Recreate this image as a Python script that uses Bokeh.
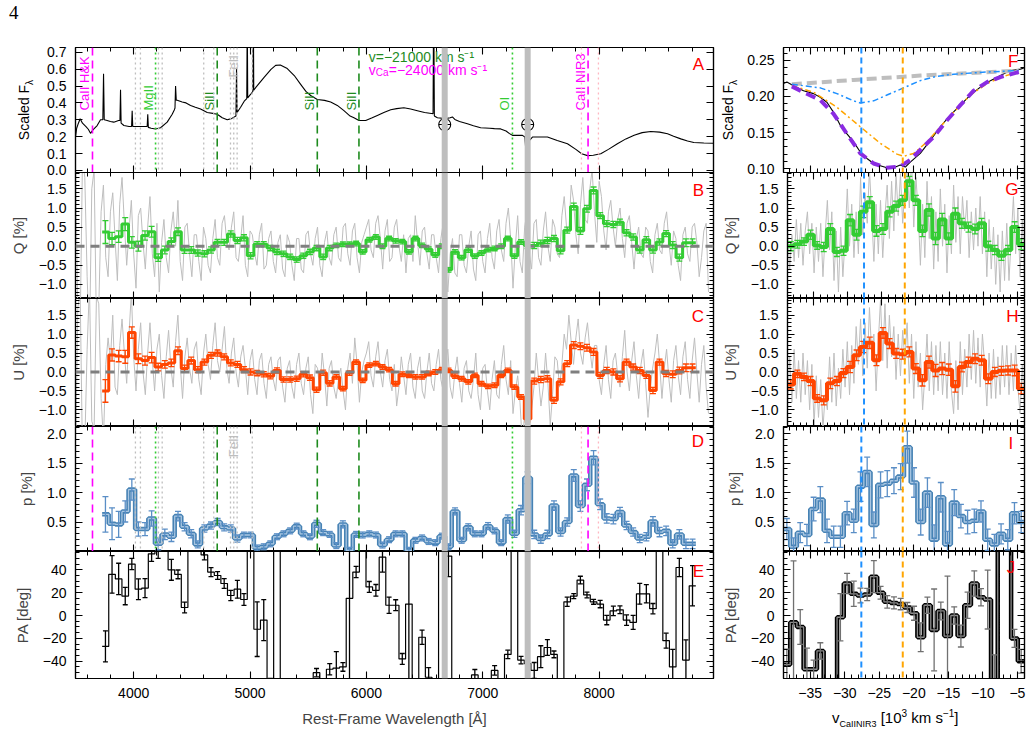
import numpy as np
from bokeh.plotting import figure
from bokeh.layouts import column, row
from bokeh.models import Range1d, LinearAxis, FixedTicker, CustomJSTickFormatter, Span, Div
from bokeh.core.properties import value
from bokeh.embed import file_html
from bokeh.resources import INLINE

FONT = "Liberation Sans"

# ------------------------------------------------------------------ data
# Panel A: total-flux spectrum, rest-frame wavelength [A] and scaled flux
spec_wave = [3500, 3510, 3525, 3540, 3560, 3590, 3610, 3629, 3650, 3686, 3715, 3735, 3741, 3747,
             3772, 3800, 3829, 3870, 3882, 3887, 3892, 3916, 3960, 3982, 3987, 3992, 4016, 4060,
             4116, 4121, 4126, 4150, 4188, 4231, 4288, 4331, 4350, 4355, 4360, 4366, 4374, 4417,
             4450, 4489, 4530, 4575, 4632, 4680, 4718, 4761, 4804, 4840, 4879, 4884, 4889, 4919,
             4950, 4972, 4976, 4980, 5004, 5024, 5028, 5032, 5048, 5119, 5180, 5220, 5260, 5320,
             5380, 5435, 5480, 5521, 5578, 5640, 5693, 5750, 5807, 5860, 5893, 5936, 5994, 6050,
             6094, 6150, 6209, 6260, 6322, 6380, 6438, 6500, 6573, 6578, 6584, 6610, 6680, 6720,
             6739, 6760, 6800, 6868, 6920, 6982, 7060, 7100, 7154, 7200, 7230, 7255, 7341, 7362,
             7376, 7386, 7400, 7427, 7490, 7556, 7640, 7728, 7800, 7850, 7900, 7950, 8014, 8080,
             8157, 8230, 8301, 8370, 8444, 8520, 8588, 8640, 8702, 8760, 8814, 8900, 8983]
spec_flux = [0.198, 0.25, 0.28, 0.306, 0.28, 0.26, 0.244, 0.22, 0.24, 0.266, 0.30, 0.30, 0.572, 0.30,
             0.296, 0.29, 0.286, 0.296, 0.296, 0.478, 0.28, 0.266, 0.26, 0.26, 0.354, 0.26, 0.26, 0.26,
             0.26, 0.333, 0.255, 0.25, 0.246, 0.253, 0.286, 0.333, 0.36, 0.37, 0.50, 0.416, 0.416, 0.405,
             0.40, 0.385, 0.374, 0.364, 0.343, 0.338, 0.333, 0.312, 0.30, 0.307, 0.322, 0.603, 0.343, 0.374,
             0.41, 0.426, 0.95, 0.43, 0.45, 0.468, 1.0, 0.475, 0.49, 0.55, 0.598, 0.622, 0.624, 0.603,
             0.562, 0.51, 0.468, 0.444, 0.42, 0.415, 0.405, 0.385, 0.354, 0.322, 0.312, 0.296, 0.296, 0.312,
             0.326, 0.343, 0.359, 0.366, 0.371, 0.364, 0.354, 0.343, 0.336, 1.1, 0.322, 0.312, 0.307, 0.312,
             0.317, 0.302, 0.29, 0.277, 0.265, 0.253, 0.25, 0.248, 0.246, 0.234, 0.218, 0.208, 0.208, 0.198,
             0.062, 0.114, 0.177, 0.198, 0.198, 0.198, 0.177, 0.158, 0.125, 0.099, 0.088, 0.09, 0.099, 0.125,
             0.158, 0.187, 0.208, 0.224, 0.231, 0.227, 0.217, 0.203, 0.187, 0.175, 0.166, 0.163, 0.161]

# Line identifications
ca_hk_wave = 3646
ca_nir_wave = 7905
si_waves = [4718, 5578, 5936]
mg_wave = 4188
o_wave = 7255
fe_dotted = [4015, 4058, 4213, 4245, 4602, 4688, 4832, 4860, 4889, 5019]
ca_nir_dotted = [7848, 7994]
telluric_waves = [6673, 7386]
telluric_flux = 0.272
id_text = ["CaII H&K", "MgII", "SiII", "FeII", "SiII", "SiII", "OI", "CaII NIR3"]
id_wave = [3646, 4188, 4718, 4925, 5578, 5936, 7255, 7905]
id_flux = [0.355, 0.355, 0.355, 0.55, 0.355, 0.355, 0.355, 0.355]
id_color = ["#FF00FF", "#33CC33", "#1E8B1E", "#BEBEBE", "#1E8B1E", "#1E8B1E", "#33CC33", "#FF00FF"]

# Panels B-E: binned polarimetry (equal-width bins between these wavelengths)
bin_lo, bin_hi = 3729, 8831
q_bin = [0.37, 0.20, 0.25, 0.58, 0.10, 0.00, 0.28, 0.38, -0.30, -0.10,
         0.12, 0.38, -0.10, -0.10, -0.18, -0.20, -0.10, 0.10, 0.10, 0.32,
         0.15, 0.22, -0.25, 0.05, 0.05, -0.05, -0.15, -0.20, -0.28, -0.35,
         -0.25, -0.15, -0.05, -0.28, -0.05, 0.02, 0.05, 0.05, 0.07, -0.15,
         0.17, 0.24, 0.00, 0.20, 0.14, 0.12, -0.15, 0.20, 0.02, -0.08,
         -0.23, 0.00, -0.62, -0.15, -0.30, -0.10, -0.26, -0.18, -0.09, -0.06,
         0.00, 0.20, -0.26, 0.11, 0.02, 0.02, 0.08, 0.15, 0.20, -0.12,
         0.42, 1.04, 0.40, 0.98, 1.46, 0.80, 0.59, 0.57, 0.63, 0.35,
         0.24, -0.10, 0.17, -0.10, 0.11, 0.33, 0.03, -0.30, 0.09, 0.09]
u_bin = [-0.50, 0.45, 0.42, 0.40, 1.04, 0.35, 0.30, 0.38, 0.13, 0.20,
         0.24, 0.56, 0.09, 0.30, 0.06, 0.26, 0.44, 0.50, 0.40, 0.24,
         0.20, 0.06, 0.00, -0.03, -0.06, -0.11, 0.04, -0.20, -0.20, -0.18,
         -0.06, -0.15, -0.47, -0.02, -0.30, -0.13, -0.44, -0.03, 0.26, -0.22,
         0.18, 0.22, 0.13, 0.06, -0.31, -0.06, -0.09, -0.13, -0.13, -0.04,
         0.00, 0.06, 0.04, -0.11, -0.18, -0.26, -0.09, -0.31, -0.38, -0.35,
         -0.09, 0.04, -0.40, -0.66, -1.24, -0.24, -0.20, -0.18, -0.75, -0.26,
         0.22, 0.71, 0.68, 0.64, 0.53, -0.09, 0.04, 0.00, -0.18, 0.26,
         0.13, 0.04, -0.09, -0.49, 0.26, -0.04, -0.06, 0.04, 0.11, 0.11]
qu_err = [0.30, 0.16, 0.15, 0.17, 0.15, 0.13, 0.12, 0.14, 0.10, 0.10,
          0.10, 0.10, 0.09, 0.09, 0.08, 0.08, 0.08, 0.08, 0.08, 0.08,
          0.08, 0.08, 0.08, 0.07, 0.07, 0.07, 0.07, 0.07, 0.07, 0.07,
          0.07, 0.07, 0.07, 0.07, 0.07, 0.06, 0.06, 0.06, 0.06, 0.06,
          0.06, 0.06, 0.06, 0.06, 0.06, 0.06, 0.06, 0.06, 0.06, 0.06,
          0.06, 0.06, 0.06, 0.06, 0.06, 0.06, 0.06, 0.06, 0.06, 0.06,
          0.06, 0.06, 0.06, 0.06, 0.08, 0.08, 0.08, 0.08, 0.08, 0.08,
          0.08, 0.09, 0.09, 0.09, 0.09, 0.08, 0.08, 0.08, 0.08, 0.08,
          0.08, 0.08, 0.08, 0.08, 0.08, 0.08, 0.09, 0.09, 0.10, 0.10]
p_bin = [0.63, 0.47, 0.46, 0.68, 1.05, 0.38, 0.38, 0.56, 0.13, 0.29,
         0.25, 0.60, 0.42, 0.30, 0.12, 0.39, 0.44, 0.50, 0.41, 0.39,
         0.22, 0.28, 0.28, 0.06, 0.08, 0.13, 0.25, 0.30, 0.35, 0.43,
         0.30, 0.25, 0.47, 0.32, 0.29, 0.10, 0.46, 0.02, 0.29, 0.28,
         0.30, 0.28, 0.11, 0.20, 0.30, 0.30, 0.02, 0.19, 0.23, 0.17,
         0.15, 0.26, 0.08, 0.68, 0.19, 0.41, 0.30, 0.30, 0.43, 0.35,
         0.15, 0.55, 0.30, 0.70, 1.25, 0.29, 0.21, 0.29, 0.78, 0.33,
         0.50, 1.29, 0.77, 1.13, 1.59, 0.80, 0.56, 0.55, 0.67, 0.44,
         0.33, 0.22, 0.25, 0.51, 0.33, 0.35, 0.13, 0.29, 0.13, 0.13]
p_err = [0.30, 0.27, 0.22, 0.18, 0.18, 0.12, 0.11, 0.13, 0.10, 0.09,
         0.08, 0.08, 0.07, 0.07, 0.06, 0.06, 0.06, 0.06, 0.06, 0.06,
         0.06, 0.05, 0.05, 0.05, 0.05, 0.05, 0.05, 0.05, 0.05, 0.05,
         0.05, 0.05, 0.06, 0.05, 0.05, 0.05, 0.06, 0.05, 0.05, 0.05,
         0.05, 0.05, 0.05, 0.05, 0.05, 0.05, 0.05, 0.05, 0.05, 0.05,
         0.05, 0.05, 0.05, 0.06, 0.05, 0.06, 0.05, 0.05, 0.06, 0.05,
         0.05, 0.07, 0.06, 0.08, 0.10, 0.07, 0.07, 0.07, 0.08, 0.07,
         0.07, 0.10, 0.09, 0.10, 0.12, 0.09, 0.08, 0.08, 0.08, 0.07,
         0.07, 0.07, 0.07, 0.08, 0.08, 0.08, 0.07, 0.08, 0.08, 0.08]
pa_bin = [-27, 36, 32, 17, 45, 23, 24, 54, 72, 78,
          40, 36, 7, 68, 81, 53, 38, 35, 28, 17.5,
          23, 14, 74, -12, -4, -66, 83, -78, -85, -72,
          -80, -69, -50, -75, -47, -46, -45, 15, 38, 71,
          25, 22, 51, 9, 9, -38, 10, -73, -19, -54,
          -82, 77, 52, -71, -86, -64, -52, -79, -68, -48,
          -77, -34, 75, -39, -42, -48, -36, -28, -34, -70,
          12, 17, 31, 18, 12, 10, -4, 4, 5, -4,
          -6, 19, 19, 6, 76, -22, -45, 42, -39, 26]

# Unbinned Q and U (grey): samples every 40 A from 3500 A, plus the samples halfway between
raw_start, raw_step = 3500, 40
q_raw = [2.5, -2.2, 1.8, -2.5, 2.0, -1.6,
         1.6, -0.8, 1.4, -0.9, 1.8, -0.5, 1.2, -1.1, 1.0, -0.6,
         1.3, -0.8, -1.2, 0.7, -0.7, 0.9, 1.2, -0.9, 0.6, -0.8,
         0.3, -0.9, 0.2, -0.7, 0.7, -0.5, 0.8, -0.1, 0.9, -0.4,
         0.8, -0.8, 0.3, -0.5, 0.6, -0.5, 0.4, -0.7, 0.3, -0.8,
         0.1, -0.9, 0.2, -0.7, 0.4, -0.5, 0.5, -0.8, 0.4, -0.5,
         0.5, -0.4, 0.6, -0.5, 0.6, -0.7, 0.3, 0.7, -0.3, 0.8,
         -0.6, 0.7, -0.3, 0.7, -0.4, -0.7, 0.3, 0.8, -0.5, 0.5,
         -0.6, 0.3, -0.7, 0.6, -1.2, 0.2, -0.8, 0.3, -0.7, 0.4,
         -0.9, 0.4, -0.7, 0.6, -0.6, 0.7, -0.4, 1.0, -1.1, 0.8,
         -0.7, 0.9, -0.6, 0.7, -0.5, 0.9, -0.4, 0.5, -0.3, 1.3,
         0.4, 1.2, -0.2, 1.8, 0.6, 2.0, 0.1, 1.3, -0.1, 1.2,
         0.0, 1.0, -0.3, 0.8, -0.6, 0.5, -0.3, 0.4, -0.7, 0.6,
         -0.2, 0.9, -0.5, 0.2, -0.9, 0.5, -0.4, 0.6, -0.8, 0.4,
         -1.2]
q_raw_mid = [-1.9, 2.3, -0.8, 1.5, -2.1, 0.9,
             -0.3, 0.9, 0.2, 1.1, 0.6, 0.4, -0.2, 0.8, 0.1, 0.5,
             -0.2, 0.6, 0.1, -0.3, 0.4, 0.0, -0.4, 0.5, -0.2, 0.3,
             -0.4, 0.5, -0.5, 0.2, -0.3, 0.6, 0.1, 0.5, -0.3, 0.2,
             -0.5, 0.4, -0.2, 0.3, -0.6, 0.2, -0.4, 0.1, -0.6, 0.3,
             -0.5, 0.2, -0.6, 0.3, -0.2, 0.2, -0.5, 0.1, -0.3, 0.3,
             -0.3, 0.5, -0.2, 0.4, -0.3, 0.1, 0.5, -0.1, 0.6, 0.2,
             0.4, -0.4, 0.5, 0.0, 0.3, 0.2, -0.4, 0.1, 0.4, -0.2,
             0.3, -0.3, 0.2, -0.6, -0.2, -0.7, 0.3, -0.5, 0.0, -0.6,
             0.3, -0.4, 0.2, -0.3, 0.4, -0.1, 0.6, 0.2, 0.0, -0.4,
             0.5, -0.2, 0.6, -0.3, 0.4, 0.0, 0.7, -0.2, 0.8, 0.5,
             1.6, 0.3, 1.1, 0.7, 1.5, 0.9, 1.7, 0.4, 0.9, 0.5,
             0.7, 0.2, 0.6, 0.1, 0.2, -0.2, 0.5, -0.4, 0.3, -0.1,
             0.6, 0.1, 0.4, -0.5, 0.3, -0.2, 0.5, 0.1, -0.3, 0.6]
u_raw = [-2.4, 2.1, -1.9, 2.3, -1.5, 1.8,
         -1.8, 0.9, 1.5, -0.6, 1.4, -0.3, 2.1, -0.5, 1.3, -0.6,
         1.3, -0.5, 1.0, -0.7, 1.1, -0.4, 1.5, -0.7, 0.9, -0.3,
         0.8, -0.6, 1.0, -0.2, 1.3, 0.0, 1.2, -0.3, 0.9, -0.4,
         0.7, -0.6, 0.6, -0.6, 0.5, -0.7, 0.4, -0.5, 0.4, -0.8,
         0.3, -0.7, 0.5, -0.6, 0.4, -1.1, 0.1, 0.5, -0.9, 0.3,
         -0.7, 0.1, -1.0, 0.5, 0.9, -0.8, 0.3, 0.8, -0.4, 0.8,
         -0.4, 0.6, -0.5, -0.9, 0.4, -0.6, 0.5, -0.7, 0.4, -0.7,
         0.5, -0.5, 0.6, -0.5, 0.6, -0.7, 0.4, -0.8, 0.3, -0.7,
         0.5, -1.0, 0.2, -1.0, 0.3, -0.7, 0.7, -0.6, -1.1, -0.1,
         -1.9, -0.5, -1.0, 0.5, -0.9, 0.5, -1.4, 0.4, -0.4, 1.0,
         1.5, 0.2, 1.4, 0.2, 1.3, 0.1, 0.7, -0.6, 0.7, -0.7,
         0.5, -0.4, 1.1, -0.5, 0.8, -0.7, 0.6, -1.2, 0.1, 1.0,
         -0.7, 0.6, -0.8, 0.7, -0.6, 0.8, -0.7, 0.9, -0.8, 0.7,
         -1.1]
u_raw_mid = [1.7, -2.2, 0.6, -1.3, 2.0, -0.7,
             0.2, 0.3, -0.4, 0.7, 0.5, 1.0, 0.4, 0.6, 0.0, 0.5,
             0.3, 0.6, -0.1, 0.4, 0.1, 0.8, 0.2, 0.4, 0.1, 0.6,
             -0.2, 0.5, 0.2, 0.7, 0.3, 0.6, 0.1, 0.5, 0.0, 0.4,
             0.1, 0.3, -0.2, 0.3, -0.3, 0.2, -0.2, 0.3, -0.4, 0.1,
             -0.4, 0.2, -0.3, 0.1, -0.6, 0.2, -0.5, -0.1, 0.1, -0.4,
             -0.2, -0.5, 0.1, -0.3, 0.2, 0.0, 0.5, -0.1, 0.4, 0.0,
             0.3, -0.2, 0.2, -0.4, -0.1, 0.2, -0.4, 0.1, -0.5, 0.0,
             -0.3, 0.2, -0.2, 0.3, -0.4, 0.0, -0.3, 0.1, -0.5, -0.2,
             -0.6, 0.1, -0.5, -0.2, -0.6, 0.2, -0.2, 0.3, -0.5, -0.8,
             -1.1, -0.3, -0.4, -0.2, -0.4, -0.3, -0.6, 0.3, 0.2, 0.6,
             0.8, 0.9, 0.5, 0.9, 0.6, 0.7, -0.2, 0.2, -0.2, 0.3,
             -0.1, 0.4, 0.0, 0.3, -0.1, 0.2, -0.3, -0.4, 0.5, 0.2,
             0.1, -0.2, 0.3, -0.1, 0.4, -0.2, 0.3, 0.0, 0.2, -0.4]

# Panel F: CaII NIR3 profile in velocity space [10^3 km/s]
f_obs_v = [-38.87, -38.38, -37.42, -35.97, -34.52, -33.55, -32.58, -31.62, -30.65, -29.68, -28.72,
           -27.75, -26.78, -25.82, -24.86, -23.89, -22.92, -21.96, -21.23, -20.51, -19.06, -17.61,
           -16.16, -14.71, -13.26, -11.81, -10.36, -8.91, -7.46, -6.01, -4.55, -3.97]
f_obs = [0.218, 0.220, 0.215, 0.208, 0.204, 0.199, 0.192, 0.178, 0.160, 0.148, 0.137,
         0.123, 0.114, 0.107, 0.104, 0.101, 0.101, 0.105, 0.102, 0.109, 0.121, 0.139,
         0.158, 0.174, 0.188, 0.202, 0.213, 0.222, 0.229, 0.236, 0.238, 0.240]
f_fit_v = [-37.66, -35.97, -33.55, -31.62, -29.68, -27.75, -25.82, -23.89, -21.96, -20.51,
           -19.06, -17.12, -15.19, -13.26, -11.33, -9.39, -7.46, -5.52, -4.80]
f_fit = [0.214, 0.206, 0.195, 0.176, 0.148, 0.121, 0.107, 0.101, 0.103, 0.112,
         0.126, 0.144, 0.167, 0.188, 0.208, 0.220, 0.227, 0.232, 0.234]
f_cont_v = [-37.66, -28.72, -19.06, -4.80]
f_cont = [0.217, 0.223, 0.229, 0.236]
f_hv_v = [-37.66, -33.55, -31.13, -28.72, -27.75, -25.82, -23.89, -21.48, -19.06, -16.64, -14.23, -9.39, -4.80]
f_hv = [0.217, 0.212, 0.204, 0.194, 0.191, 0.194, 0.202, 0.212, 0.222, 0.228, 0.231, 0.234, 0.236]
f_pv_v = [-37.66, -34.52, -31.13, -27.75, -24.86, -22.44, -21.48, -20.02, -18.09, -16.16, -14.23,
          -11.81, -9.39, -6.98, -4.80]
f_pv = [0.215, 0.206, 0.185, 0.158, 0.135, 0.120, 0.117, 0.121, 0.137, 0.158, 0.178,
        0.202, 0.218, 0.228, 0.234]
v_hv, v_pv = -27.6, -21.6

# Panels G-J: binned polarimetry across the CaII NIR3 feature
vbin_lo, vbin_hi = -38.87, -3.97
q_v = [0.0, 0.05, 0.12, 0.3, 0.02, -0.02, 0.45, -0.15, -0.12, 0.68, 0.3, 0.9, 1.15, 0.4, 0.45, 0.9,
       1.05, 1.2, 1.7, 1.2, 0.4, 0.95, 0.2, 0.7, 0.2, 0.85, 0.6, 0.5, 0.45, 0.6, 0.0, -0.1, -0.25,
       -0.1, 0.5, 0.05]
u_v = [-0.33, -0.05, -0.13, -0.24, -0.7, -0.75, -0.3, -0.24, -0.03, 0.13, 0.44, 0.66, 0.77, 0.31,
       1.03, 0.75, 0.49, 0.47, 0.53, 0.09, -0.22, 0.26, 0.04, 0.09, 0.06, -0.38, 0.13, 0.26, 0.35,
       0.31, -0.18, 0.0, 0.03, 0.04, 0.04, -0.44]
qu_v_err = [0.12, 0.10, 0.10, 0.12, 0.10, 0.12, 0.14, 0.12, 0.12, 0.15, 0.14, 0.15, 0.15, 0.14,
            0.14, 0.13, 0.13, 0.13, 0.13, 0.13, 0.15, 0.16, 0.16, 0.16, 0.15, 0.15, 0.13, 0.13,
            0.13, 0.13, 0.13, 0.12, 0.12, 0.12, 0.14, 0.14]
p_v = [0.38, 0.08, 0.32, 0.28, 0.72, 0.88, 0.35, 0.25, 0.25, 0.65, 0.52, 1.10, 1.35, 0.45, 1.13,
       1.15, 1.20, 1.27, 1.77, 1.17, 0.50, 1.00, 0.20, 0.92, 0.12, 0.83, 0.60, 0.50, 0.52, 0.68,
       0.20, 0.12, 0.30, 0.20, 0.65, 0.50]
p_v_err = [0.18, 0.15, 0.17, 0.18, 0.20, 0.22, 0.20, 0.18, 0.18, 0.20, 0.20, 0.25, 0.25, 0.22,
           0.22, 0.22, 0.22, 0.22, 0.27, 0.25, 0.22, 0.25, 0.25, 0.25, 0.22, 0.22, 0.20, 0.20,
           0.20, 0.18, 0.18, 0.17, 0.17, 0.17, 0.18, 0.18]
pa_v = [-43, -6, -10, -47, -47, -31, -75, -80, -1.5, 28, 19, 17.5, 18.4, 34, 20, 12, 11, 10, 7,
        2, -19, 9, -12.6, 4, -18, 0, -18, 9, 28, 16, 14, -75, 80, 85, -20, -40]
q_v_raw = [0.5, -0.6, 0.3, -0.4, 0.7, -0.3, 0.6, -0.5, 0.4, 0.9, -0.2, 0.6,
           -0.7, 0.5, -0.4, 0.6, -0.8, 0.3, 1.2, -0.1, 0.9, -0.9, 0.4, -1.2,
           0.5, -0.8, 0.2, 1.5, 0.0, 1.1, -0.3, 0.9, -0.2, 1.8, 0.3, 1.4,
           0.6, 2.0, 0.9, -0.4, 1.1, -0.2, 1.2, -0.3, 0.8, 1.6, 0.2, 1.7,
           0.4, 1.9, 0.8, 1.9, 0.6, 1.5, 2.1, 1.0, 2.3, 0.5, 1.8, 0.9,
           -0.5, 1.1, -0.3, 1.7, 0.2, 1.3, -0.6, 0.9, -0.4, 1.5, 0.0, 1.1,
           -0.7, 0.8, -0.2, 1.6, 0.1, 1.3, -0.2, 1.3, 0.4, 1.2, -0.3, 0.9,
           -0.1, 1.0, 0.0, 1.3, -0.2, 0.9, -0.8, 0.7, -0.6, 0.5, -1.0, 0.3,
           -1.2, 0.4, -0.9, 0.6, -0.9, 0.2, 1.3, -0.2, 1.0, -0.8, 0.7, -1.0]
u_v_raw = [-1.0, 0.4, -0.8, 0.6, -0.7, 0.3, -0.8, 0.5, -0.6, 0.3, -1.0, 0.2,
           -1.4, -0.1, -1.2, -0.2, -1.5, -0.6, -1.0, 0.4, -0.8, 0.5, -0.9, 0.1,
           -0.7, 0.6, -0.4, 0.8, -0.6, 0.7, -0.3, 1.2, 0.2, 1.4, -0.1, 1.3,
           0.1, 1.7, 0.5, 1.0, -0.5, 0.8, 1.9, 0.3, 1.8, 0.1, 1.5, 0.4,
           1.2, -0.2, 1.0, -0.1, 1.1, 0.3, 1.3, -0.3, 1.0, -0.7, 0.8, -0.4,
           0.5, -1.0, -0.1, 1.0, -0.5, 0.8, -0.6, 0.7, -0.5, 0.8, -0.6, 0.5,
           -0.7, 0.8, -0.5, -1.1, 0.3, -1.0, 0.8, -0.6, 0.6, -0.4, 1.0, -0.2,
           1.1, -0.3, 0.9, -0.4, 1.0, 0.2, -0.9, 0.5, -0.7, 0.6, -0.7, 0.4,
           -0.6, 0.7, -0.4, 0.7, -0.6, 0.5, -0.5, 0.7, -0.4, -1.1, 0.2, -1.2]

# ------------------------------------------------------------------ geometry
WAVE_RANGE = (3500, 8983)
VEL_RANGE = (-38.87, -3.97)
Y_RANGES = [(-0.012, 0.728), (-1.37, 1.93), (-1.44, 1.94), (0.0, 2.12), (-55.1, 56.0)]
F_RANGE = (0.0945, 0.268)
OVERLAP = 5   # first row reaches under the second so its lowest tick label is not cut

GREEN, ORANGE, STEEL, LIGHT = "#33CC33", "#FF4500", "#4682B4", "#A9C6E2"
GREY = "#BEBEBE"


def fmt(decimals):
    return CustomJSTickFormatter(code="return tick.toFixed(%d).replace('-', '\u2212');" % decimals)


def blank():
    return CustomJSTickFormatter(code="return '';")


def set_axis(ax, ticker, formatter, show):
    ax.ticker = ticker
    ax.formatter = formatter if show else blank()
    ax.major_tick_in, ax.major_tick_out = 7, 0
    ax.minor_tick_in, ax.minor_tick_out = 4, 0
    for prop in ("axis_line_color", "major_tick_line_color", "minor_tick_line_color"):
        setattr(ax, prop, "black")
    ax.axis_line_width = 1.2
    ax.major_tick_line_width = 1.1
    ax.minor_tick_line_width = 1.0
    if show:
        ax.major_label_text_font = FONT
        ax.major_label_text_font_size = "14px"
        ax.major_label_text_color = "black"
        ax.major_label_standoff = 9
    else:
        ax.major_label_text_font_size = "0px"
        ax.major_label_standoff = 0
    ax.axis_label_text_font = FONT
    ax.axis_label_text_font_size = "15px"
    ax.axis_label_text_font_style = "normal"
    ax.axis_label_standoff = 9


def make_fig(xr, yr, w, h, bl, br, bt, bb, xt, yt, xfmt, yfmt,
             ylabel=None, show_x=False, xlabel=None, clear=False):
    p = figure(width=w, height=h, x_range=Range1d(*xr), y_range=Range1d(*yr),
               output_backend="svg", toolbar_location=None, tools="")
    p.min_border_left, p.min_border_right = bl, br
    p.min_border_top, p.min_border_bottom = bt, bb
    p.xgrid.visible = False
    p.ygrid.visible = False
    p.outline_line_color = "black"
    p.outline_line_width = 1.2
    p.background_fill_color = "white"
    p.border_fill_color = "white"
    if clear:
        p.background_fill_alpha = 0
        p.border_fill_alpha = 0
    set_axis(p.xaxis[0], xt, xfmt, show_x)
    set_axis(p.yaxis[0], yt, yfmt, True)
    if ylabel:
        p.yaxis[0].axis_label = ylabel
    if xlabel:
        p.xaxis[0].axis_label = xlabel
    top = LinearAxis()
    set_axis(top, xt, xfmt, False)
    p.add_layout(top, "above")
    right = LinearAxis()
    set_axis(right, yt, yfmt, False)
    p.add_layout(right, "right")
    return p


def step_xy(edges, vals):
    return np.repeat(edges, 2)[1:-1], np.repeat(np.asarray(vals, float), 2)


def binned(p, edges, vals, errs, color, width, err_color=None, inner=None, cap=6):
    xs, ys = step_xy(edges, vals)
    p.line(xs, ys, line_color=color, line_width=width)
    if inner:
        p.line(xs, ys, line_color=inner, line_width=1.3)
    xc = 0.5 * (edges[:-1] + edges[1:])
    v = np.asarray(vals, float)
    e = np.asarray(errs, float)
    ec = err_color or color
    p.segment(xc, v - e, xc, v + e, line_color=ec, line_width=1.3)
    p.scatter(xc, v + e, marker="dash", size=cap, line_color=ec, line_width=1.3)
    p.scatter(xc, v - e, marker="dash", size=cap, line_color=ec, line_width=1.3)


def vline(p, x, color, width, dash="solid"):
    p.add_layout(Span(location=x, dimension="height", line_color=color, line_width=width, line_dash=dash))


def panel_letter(p, x, y, letter):
    p.text(x=[x], y=[y], text=[letter], text_align="right", text_baseline="top",
           text_color="#FF0000", text_font=value(FONT), text_font_size="17px")


def line_ids(p):
    for w in fe_dotted:
        vline(p, w, GREY, 1.3, "2 3")
    for w in ca_nir_dotted:
        vline(p, w, "#FFB6C1", 1.3, "2 3")
    vline(p, mg_wave, GREEN, 1.6, "2 3")
    vline(p, o_wave, GREEN, 1.6, "2 3")
    vline(p, ca_hk_wave, "#FF00FF", 1.6, "8 5")
    vline(p, ca_nir_wave, "#FF00FF", 1.6, "8 5")
    for w in si_waves:
        vline(p, w, "#1E8B1E", 1.6, "8 5")


def telluric(p):
    for w in telluric_waves:
        vline(p, w, GREY, 6)


def side_label(width, height, cx, cy, page_number=False):
    """Rotated 'Scaled F_lambda' axis title (and optionally the page number)."""
    inner = ""
    if page_number:
        inner += ('<div style="position:absolute;left:9px;top:3px;font-family:\'Liberation Serif\',serif;'
                  'font-size:19px;line-height:19px;color:black;">4</div>')
    inner += ('<div style="position:absolute;left:%dpx;top:%dpx;transform:translate(-50%%,-50%%) rotate(-90deg);'
              'white-space:nowrap;font-family:\'Liberation Sans\',sans-serif;font-size:14px;line-height:16px;'
              'color:black;">Scaled F<sub style="font-size:10px;">\u03bb</sub></div>' % (cx, cy))
    html = '<div style="position:relative;width:%dpx;height:%dpx;">%s</div>' % (width, height, inner)
    return Div(text=html, width=width, height=height, margin=(0, 0, 0, 0))


# ------------------------------------------------------------------ tickers
wave_ticks = FixedTicker(ticks=[4000, 5000, 6000, 7000, 8000], minor_ticks=list(range(3600, 9000, 200)))
vel_ticks = FixedTicker(ticks=[-35, -30, -25, -20, -15, -10, -5], minor_ticks=list(range(-38, -3)))
flux_ticks = FixedTicker(ticks=[0.0, 0.1, 0.2, 0.3, 0.4, 0.5, 0.6, 0.7], minor_ticks=[])
qu_ticks = FixedTicker(ticks=[-1.0, -0.5, 0.0, 0.5, 1.0, 1.5],
                       minor_ticks=[round(-1.3 + 0.1 * k, 1) for k in range(33)])
p_ticks = FixedTicker(ticks=[0.5, 1.0, 1.5, 2.0], minor_ticks=[round(0.1 * k, 1) for k in range(1, 22)])
pa_ticks = FixedTicker(ticks=[-40, -20, 0, 20, 40], minor_ticks=list(range(-55, 56, 5)))
f_ticks = FixedTicker(ticks=[0.10, 0.15, 0.20, 0.25], minor_ticks=[round(0.1 + 0.01 * k, 2) for k in range(17)])

edges = np.linspace(bin_lo, bin_hi, len(q_bin) + 1)
vedges = np.linspace(vbin_lo, vbin_hi, len(q_v) + 1)

# merge the two interleaved sample sets of the unbinned spectra
raw_w = np.concatenate([raw_start + raw_step * np.arange(len(q_raw)),
                        raw_start + raw_step / 2 + raw_step * np.arange(len(q_raw_mid))])
order = np.argsort(raw_w)
raw_wave = raw_w[order]
q_raw_all = np.concatenate([q_raw, q_raw_mid])[order]
u_raw_all = np.concatenate([u_raw, u_raw_mid])[order]

raw_vel = np.linspace(vbin_lo, vbin_hi, len(q_v_raw))
pa_err = 28.65 * np.asarray(p_err) / np.maximum(np.asarray(p_bin), 0.02)
pa_v_err = 28.65 * np.asarray(p_v_err) / np.maximum(np.asarray(p_v), 0.02)

# ------------------------------------------------------------------ left column
fA = make_fig(WAVE_RANGE, Y_RANGES[0], 678, 172 + OVERLAP, 35, 5, 47, OVERLAP,
              wave_ticks, flux_ticks, fmt(0), fmt(1))
line_ids(fA)
telluric(fA)
fA.line(spec_wave, spec_flux, line_color="black", line_width=1.1)
fA.scatter(telluric_waves, [telluric_flux] * len(telluric_waves), marker="circle_cross", size=12,
           fill_color=None, line_color="black", line_width=1.1)
fA.text(x=id_wave, y=id_flux, text=id_text, angle=np.pi / 2, text_align="left", text_baseline="bottom",
        text_color=id_color, text_font=value(FONT), text_font_size="13px")
fA.text(x=[6020], y=[0.722], text=["v=\u221221000 km s\u207b\u00b9"], text_baseline="top",
        text_color="#1E8B1E", text_font=value(FONT), text_font_size="14px")
fA.text(x=[6020], y=[0.642], text=["v"], text_baseline="top",
        text_color="#FF00FF", text_font=value(FONT), text_font_size="14px")
fA.text(x=[6020], y=[0.642], text=["Ca"], text_baseline="top", x_offset=7, y_offset=5,
        text_color="#FF00FF", text_font=value(FONT), text_font_size="10px")
fA.text(x=[6020], y=[0.642], text=["=\u221224000 km s\u207b\u00b9"], text_baseline="top", x_offset=20,
        text_color="#FF00FF", text_font=value(FONT), text_font_size="14px")
panel_letter(fA, 8902, 0.686, "A")

fB = make_fig(WAVE_RANGE, Y_RANGES[1], 718, 126, 75, 5, 0, 0, wave_ticks, qu_ticks, fmt(0), fmt(1),
              ylabel="Q [%]", clear=True)
fB.line(raw_wave, q_raw_all, line_color=GREY, line_width=1)
fB.add_layout(Span(location=0, dimension="width", line_color="#7F7F7F", line_width=3, line_dash="9 6"))
telluric(fB)
binned(fB, edges, q_bin, qu_err, GREEN, 3)
panel_letter(fB, 8902, 1.72, "B")

fC = make_fig(WAVE_RANGE, Y_RANGES[2], 718, 128, 75, 5, 0, 0, wave_ticks, qu_ticks, fmt(0), fmt(1),
              ylabel="U [%]")
fC.line(raw_wave, u_raw_all, line_color=GREY, line_width=1)
fC.add_layout(Span(location=0, dimension="width", line_color="#7F7F7F", line_width=3, line_dash="9 6"))
telluric(fC)
binned(fC, edges, u_bin, qu_err, ORANGE, 3)
panel_letter(fC, 8902, 1.72, "C")

fD = make_fig(WAVE_RANGE, Y_RANGES[3], 718, 125, 75, 5, 0, 0, wave_ticks, p_ticks, fmt(0), fmt(1),
              ylabel="p [%]")
line_ids(fD)
telluric(fD)
binned(fD, edges, p_bin, p_err, STEEL, 4.5, err_color="#5A8EC6", inner=LIGHT)
fD.text(x=[4925], y=[1.6], text=["FeII"], angle=np.pi / 2, text_align="left", text_baseline="bottom",
        text_color=GREY, text_font=value(FONT), text_font_size="13px")
panel_letter(fD, 8902, 2.03, "D")

fE = make_fig(WAVE_RANGE, Y_RANGES[4], 718, 190, 75, 5, 0, 63, wave_ticks, pa_ticks, fmt(0), fmt(0),
              ylabel="PA [deg]", show_x=True, xlabel="Rest-Frame Wavelength [\u00c5]")
telluric(fE)
binned(fE, edges, pa_bin, pa_err, "black", 1.2, cap=5)
panel_letter(fE, 8902, 46.6, "E")


# ------------------------------------------------------------------ right column
def vel_marks(p):
    vline(p, v_hv, "#1E90FF", 2, "6 4")
    vline(p, v_pv, "#FFA500", 2, "6 4")


fF = make_fig(VEL_RANGE, F_RANGE, 293, 172 + OVERLAP, 43, 9, 47, OVERLAP, vel_ticks, f_ticks, fmt(0), fmt(2))
vel_marks(fF)
fF.line(f_obs_v, f_obs, line_color="black", line_width=1.1)
fF.line(f_cont_v, f_cont, line_color=GREY, line_width=4, line_dash="10 5")
fF.line(f_hv_v, f_hv, line_color="#1E90FF", line_width=1.5, line_dash="6 3 2 3")
fF.line(f_pv_v, f_pv, line_color="#FFA500", line_width=1.5, line_dash="6 3 2 3")
fF.line(f_fit_v, f_fit, line_color="#8A2BE2", line_width=4, line_dash="10 6")
panel_letter(fF, -4.86, 0.2615, "F")

fG = make_fig(VEL_RANGE, Y_RANGES[1], 315, 126, 65, 9, 0, 0, vel_ticks, qu_ticks, fmt(0), fmt(1),
              ylabel="Q [%]", clear=True)
fG.line(raw_vel, q_v_raw, line_color=GREY, line_width=1)
vel_marks(fG)
binned(fG, vedges, q_v, qu_v_err, GREEN, 4)
panel_letter(fG, -4.86, 1.74, "G")

fH = make_fig(VEL_RANGE, Y_RANGES[2], 315, 128, 65, 9, 0, 0, vel_ticks, qu_ticks, fmt(0), fmt(1),
              ylabel="U [%]")
fH.line(raw_vel, u_v_raw, line_color=GREY, line_width=1)
vel_marks(fH)
binned(fH, vedges, u_v, qu_v_err, ORANGE, 4)
panel_letter(fH, -4.86, 1.72, "H")

fI = make_fig(VEL_RANGE, Y_RANGES[3], 315, 125, 65, 9, 0, 0, vel_ticks, p_ticks, fmt(0), fmt(1),
              ylabel="p [%]")
vel_marks(fI)
binned(fI, vedges, p_v, p_v_err, STEEL, 4.5, err_color="#5A8EC6", inner=LIGHT)
panel_letter(fI, -5.6, 2.0, "I")

fJ = make_fig(VEL_RANGE, Y_RANGES[4], 315, 152, 65, 9, 0, 25, vel_ticks, pa_ticks, fmt(0), fmt(0),
              ylabel="PA [deg]", show_x=True)
vel_marks(fJ)
binned(fJ, vedges, pa_v, pa_v_err, "black", 4.5, err_color="#707070", inner="#8C8C8C")
panel_letter(fJ, -5.3, 50, "J")

vel_title = Div(width=315, height=38, margin=(0, 0, 0, 0), text=(
    '<div style="position:relative;width:315px;height:38px;">'
    '<div style="position:absolute;left:114px;top:3px;white-space:nowrap;'
    'font-family:\'Liberation Sans\',sans-serif;font-size:15px;line-height:15px;color:black;">'
    'v<sub style="font-size:9px;">CaIINIR3</sub> [10<sup style="font-size:10px;">3</sup> km s'
    '<sup style="font-size:10px;">\u22121</sup>]</div></div>'))

label_A = side_label(40, 172, 27, 110, page_number=True)
label_F = side_label(22, 172, 13, 110)

layout = column(
    row(label_A, fA, label_F, fF),
    row(fB, fG, margin=(-OVERLAP, 0, 0, 0)),
    row(fC, fH),
    row(fD, fI),
    row(fE, column(fJ, vel_title)),
)
open("out.html", "w").write(file_html(layout, INLINE))
